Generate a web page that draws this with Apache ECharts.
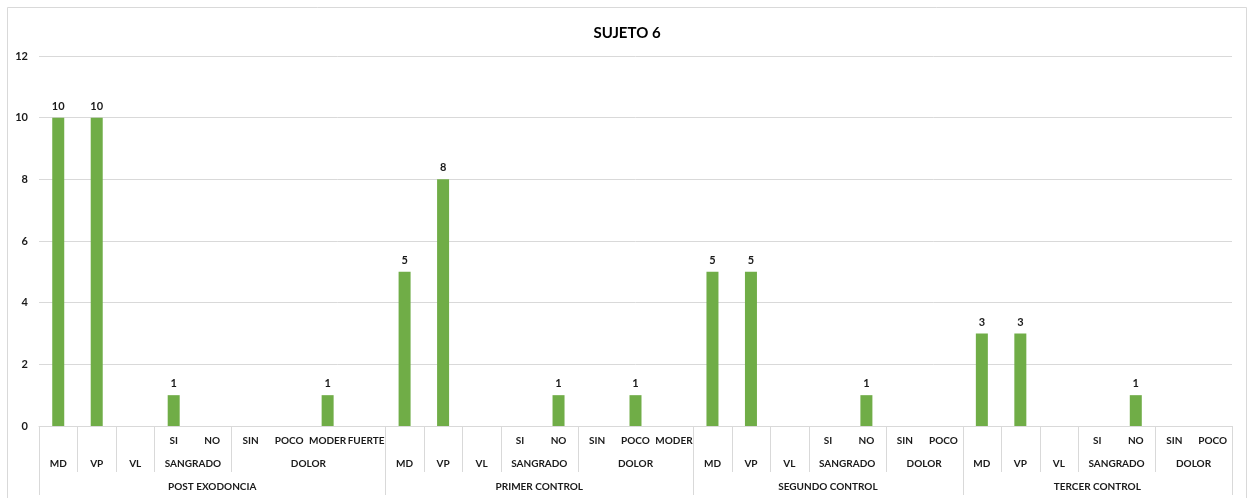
<!DOCTYPE html>
<html>
<head>
<meta charset="utf-8">
<script src="https://cdn.jsdelivr.net/npm/echarts@6/dist/echarts.min.js"></script>
<style>html,body{margin:0;padding:0;background:#fff;}#c{width:1254px;height:498px;}</style>
</head>
<body>
<div id="c"></div>
<script>
const titleText = 'SUJETO 6';
const level1 = ['', '', '', 'SI', 'NO', 'SIN', 'POCO', 'MODER', 'FUERTE',
                '', '', '', 'SI', 'NO', 'SIN', 'POCO', 'MODER',
                '', '', '', 'SI', 'NO', 'SIN', 'POCO',
                '', '', '', 'SI', 'NO', 'SIN', 'POCO'];
const level2 = ['MD', 'VP', 'VL', 'SANGRADO', 'SANGRADO', 'DOLOR', 'DOLOR', 'DOLOR', 'DOLOR',
                'MD', 'VP', 'VL', 'SANGRADO', 'SANGRADO', 'DOLOR', 'DOLOR', 'DOLOR',
                'MD', 'VP', 'VL', 'SANGRADO', 'SANGRADO', 'DOLOR', 'DOLOR',
                'MD', 'VP', 'VL', 'SANGRADO', 'SANGRADO', 'DOLOR', 'DOLOR'];
const level3 = ['POST EXODONCIA', 'POST EXODONCIA', 'POST EXODONCIA', 'POST EXODONCIA', 'POST EXODONCIA', 'POST EXODONCIA', 'POST EXODONCIA', 'POST EXODONCIA', 'POST EXODONCIA',
                'PRIMER CONTROL', 'PRIMER CONTROL', 'PRIMER CONTROL', 'PRIMER CONTROL', 'PRIMER CONTROL', 'PRIMER CONTROL', 'PRIMER CONTROL', 'PRIMER CONTROL',
                'SEGUNDO CONTROL', 'SEGUNDO CONTROL', 'SEGUNDO CONTROL', 'SEGUNDO CONTROL', 'SEGUNDO CONTROL', 'SEGUNDO CONTROL', 'SEGUNDO CONTROL',
                'TERCER CONTROL', 'TERCER CONTROL', 'TERCER CONTROL', 'TERCER CONTROL', 'TERCER CONTROL', 'TERCER CONTROL', 'TERCER CONTROL'];
const values = [10, 10, null, 1, null, null, null, 1, null,
                5, 8, null, null, 1, null, 1, null,
                5, 5, null, null, 1, null, null,
                3, 3, null, null, 1, null, null];
const yTicks = [0, 2, 4, 6, 8, 10, 12];

const FONT = 'Lato, "Open Sans", sans-serif';
const TXT = '#1a1a1a';
const LINE = '#d9d9d9';
const keys = level1.map((v, i) => level3[i] + '|' + level2[i] + '|' + v + '|' + i);

const chart = echarts.init(document.getElementById('c'), null, {renderer: 'canvas'});
chart.setOption({
  animation: false,
  backgroundColor: '#fff',
  title: {
    text: titleText, left: 'center', top: 21,
    textStyle: {fontFamily: FONT, fontSize: 15, fontWeight: 'bold', color: '#000'}
  },
  grid: {left: 39, right: 22, top: 56, bottom: 72, containLabel: false},
  xAxis: {
    type: 'category', data: keys,
    axisLine: {show: true, lineStyle: {color: LINE, width: 1}},
    axisTick: {show: false},
    axisLabel: {show: false},
    splitLine: {show: false}
  },
  yAxis: {
    type: 'value', min: yTicks[0], max: yTicks[yTicks.length - 1], interval: 2,
    axisLine: {show: false}, axisTick: {show: false},
    axisLabel: {margin: 11, fontFamily: FONT, fontSize: 11, fontWeight: 'bold', color: TXT},
    splitLine: {lineStyle: {color: LINE, width: 1}}
  },
  series: [{
    type: 'bar', data: values, barWidth: 12,
    itemStyle: {color: '#70AD47'},
    label: {show: true, position: 'top', distance: 6, fontFamily: FONT, fontSize: 11, fontWeight: 'bold', color: TXT}
  }]
});

function buildGraphics() {
  const n = keys.length;
  const cx = i => chart.convertToPixel({xAxisIndex: 0}, keys[i]);
  const step = cx(1) - cx(0);
  const edge = i => cx(i) - step / 2; // left boundary of category i
  const y0 = chart.convertToPixel({yAxisIndex: 0}, 0);
  const els = [];
  // chart border
  els.push({type: 'rect', shape: {x: 7.5, y: 7.5, width: 1239, height: 520}, style: {fill: null, stroke: LINE, lineWidth: 1}, silent: true});
  const vline = (x, y1, y2) => els.push({type: 'line', shape: {x1: Math.round(x) + 0.5, y1: y1, x2: Math.round(x) + 0.5, y2: y2}, style: {stroke: LINE, lineWidth: 1}, silent: true});
  const text = (x, y, t) => els.push({type: 'text', x: x, y: y, style: {text: t, fontFamily: FONT, fontSize: 10, fontWeight: 'bold', fill: TXT, align: 'center', verticalAlign: 'middle'}, silent: true});
  // level 1 labels
  for (let i = 0; i < n; i++) if (level1[i]) text(cx(i), y0 + 15, level1[i]);
  // level 2 groups
  let s = 0;
  for (let i = 1; i <= n; i++) {
    if (i === n || level2[i] !== level2[i - 1] || level3[i] !== level3[i - 1]) {
      const mid = (edge(s) + edge(i - 1) + step) / 2;
      text(mid, y0 + 38, level2[s]);
      if (i < n && level3[i] === level3[i - 1]) vline(edge(i), y0, y0 + 46);
      s = i;
    }
  }
  // level 3 groups
  s = 0;
  vline(edge(0), y0, y0 + 69);
  for (let i = 1; i <= n; i++) {
    if (i === n || level3[i] !== level3[i - 1]) {
      const mid = (edge(s) + edge(i - 1) + step) / 2;
      text(mid, y0 + 61, level3[s]);
      vline(i === n ? edge(n - 1) + step : edge(i), y0, y0 + 69);
      s = i;
    }
  }
  chart.setOption({graphic: {elements: els}});
}
buildGraphics();
</script>
</body>
</html>
